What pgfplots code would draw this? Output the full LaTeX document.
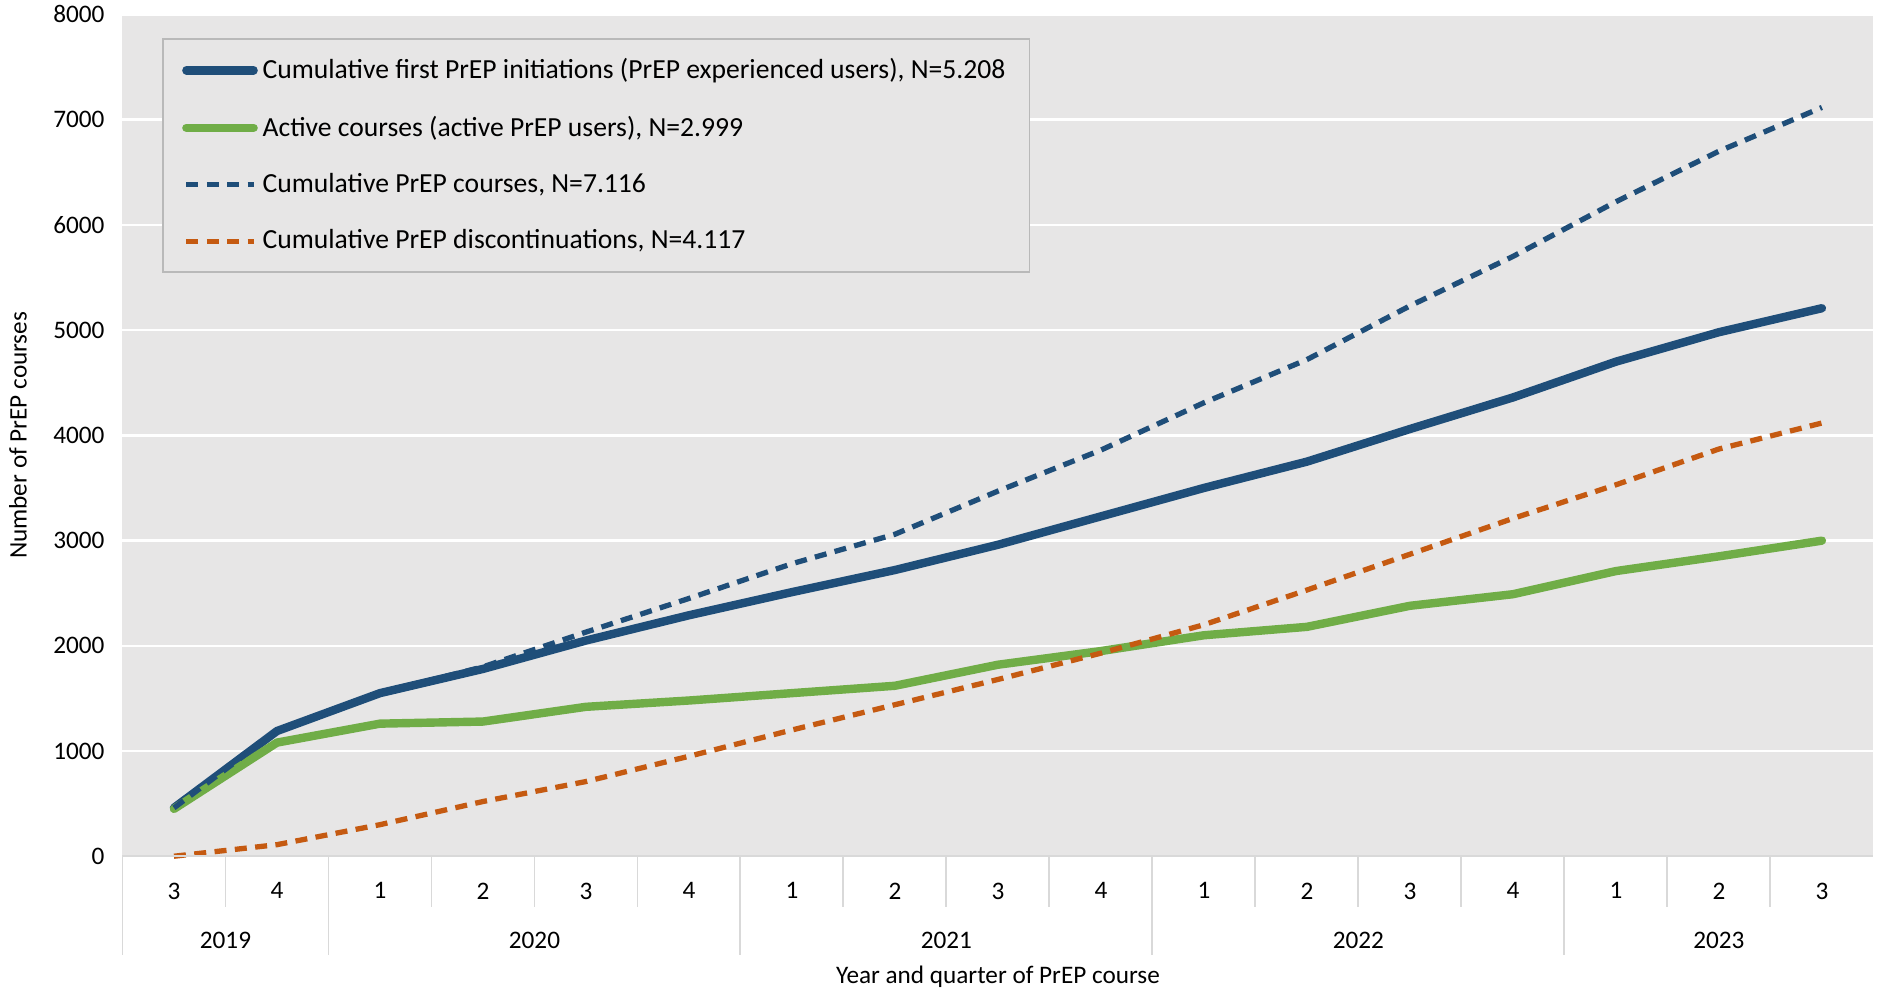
\documentclass[border=0pt]{standalone}
\usepackage{fontspec}
\setmainfont{Carlito}
\usepackage{pgfplots}
\pgfplotsset{compat=1.18}

\definecolor{cblue}{RGB}{31,78,121}
\definecolor{cgreen}{RGB}{112,173,71}
\definecolor{corange}{RGB}{197,90,17}
\definecolor{bggray}{RGB}{231,230,230}
\definecolor{sepgray}{RGB}{217,217,217}

\begin{document}
\begin{tikzpicture}
\path[use as bounding box] (-51pt,-56pt) rectangle (733pt,356.5pt);
\begin{axis}[
    scale only axis,
    width=729pt, height=350.5pt,
    xmin=-0.5, xmax=16.5,
    ymin=0, ymax=8000,
    ytick={0,1000,...,8000},
    xtick={0,...,16},
    xticklabels={3,4,1,2,3,4,1,2,3,4,1,2,3,4,1,2,3},
    /pgf/number format/1000 sep={},
    /pgf/number format/assume math mode=true,
    tick label style={font=\fontsize{10.5}{12}\selectfont},
    xticklabel style={yshift=-7.5pt},
    yticklabel style={xshift=-4pt},
    major tick style={draw=none},
    axis line style={draw=none},
    axis background/.style={fill=bggray},
    ymajorgrids,
    grid style={white, line width=1pt},
    clip=false,
    xlabel={Year and quarter of PrEP course},
    xlabel style={at={(axis description cs:0.5,0)}, anchor=center, yshift=-50pt, font=\fontsize{10.5}{12}\selectfont},
    ylabel={Number of PrEP courses},
    ylabel style={at={(axis description cs:0,0.5)}, anchor=center, yshift=43.5pt, font=\fontsize{10.5}{12}\selectfont},
    legend style={at={(0,1)}, anchor=north west, xshift=16.5pt, yshift=-10pt,
        fill=bggray, draw=gray!55, line width=0.7pt,
        inner xsep=8pt, inner ysep=6pt, row sep=10pt,
        font=\fontsize{11.5}{13}\selectfont},
    legend cell align=left,
    legend image code/.code={\draw[#1] (0pt,0pt) -- (28pt,0pt);},
]
\addplot[cblue, line width=3.5pt, line join=round, line cap=round] coordinates {
(0,460) (1,1190) (2,1550) (3,1780) (4,2050) (5,2290) (6,2510) (7,2720) (8,2960)
(9,3230) (10,3500) (11,3750) (12,4060) (13,4360) (14,4700) (15,4980) (16,5208)};
\addlegendentry{Cumulative first PrEP initiations (PrEP experienced users), N=5.208}

\addplot[cgreen, line width=3.5pt, line join=round, line cap=round] coordinates {
(0,450) (1,1080) (2,1260) (3,1280) (4,1420) (5,1480) (6,1550) (7,1620) (8,1820)
(9,1950) (10,2100) (11,2180) (12,2380) (13,2490) (14,2710) (15,2850) (16,2999)};
\addlegendentry{Active courses (active PrEP users), N=2.999}

\addplot[cblue, line width=2.2pt, dash pattern=on 5pt off 3.5pt] coordinates {
(0,460) (1,1190) (2,1550) (3,1800) (4,2130) (5,2450) (6,2780) (7,3060) (8,3470)
(9,3860) (10,4310) (11,4720) (12,5230) (13,5700) (14,6220) (15,6700) (16,7116)};
\addlegendentry{Cumulative PrEP courses, N=7.116}

\addplot[corange, line width=2.2pt, dash pattern=on 5pt off 3.5pt] coordinates {
(0,0) (1,110) (2,300) (3,520) (4,710) (5,950) (6,1200) (7,1440) (8,1680)
(9,1930) (10,2200) (11,2530) (12,2870) (13,3210) (14,3530) (15,3870) (16,4117)};
\addlegendentry{Cumulative PrEP discontinuations, N=4.117}

% category table below the axis
\draw[sepgray, line width=0.8pt] (axis cs:-0.5,0) -- (axis cs:16.5,0);
\pgfplotsinvokeforeach{0.5,2.5,3.5,4.5,6.5,7.5,8.5,10.5,11.5,12.5,14.5,15.5}{
  \draw[sepgray, line width=0.8pt] (axis cs:#1,0) -- ([yshift=-21pt]axis cs:#1,0);
}
\pgfplotsinvokeforeach{-0.5,1.5,5.5,9.5,13.5}{
  \draw[sepgray, line width=0.8pt] (axis cs:#1,0) -- ([yshift=-41pt]axis cs:#1,0);
}
\node[font=\fontsize{10.5}{12}\selectfont] at ([yshift=-35pt]axis cs:0.5,0) {2019};
\node[font=\fontsize{10.5}{12}\selectfont] at ([yshift=-35pt]axis cs:3.5,0) {2020};
\node[font=\fontsize{10.5}{12}\selectfont] at ([yshift=-35pt]axis cs:7.5,0) {2021};
\node[font=\fontsize{10.5}{12}\selectfont] at ([yshift=-35pt]axis cs:11.5,0) {2022};
\node[font=\fontsize{10.5}{12}\selectfont] at ([yshift=-35pt]axis cs:15,0) {2023};
\end{axis}
\end{tikzpicture}
\end{document}
